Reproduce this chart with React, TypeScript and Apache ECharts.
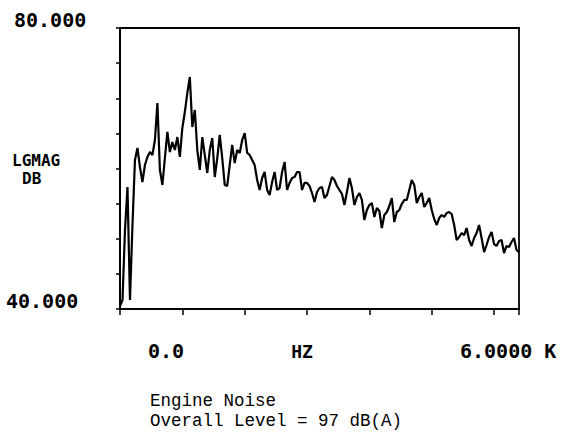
import React, { useEffect, useRef } from "react";
import * as echarts from "echarts";

// Frequency spacing of the trace samples (Hz)
const freqStep = 40;
// Log magnitude (dB), one value every 40 Hz from 0 Hz
const levels = [
  40.43, 41.28, 51.25, 57.37, 41.28, 51.96, 61.21, 62.92, 60.21, 58.08,
  60.5, 61.64, 62.35, 61.92, 64.06, 69.32, 59.79, 57.65, 61.49, 65.2,
  62.35, 63.77, 62.63, 64.48, 61.64, 65.77, 68.04, 70.75, 73.02, 65.91,
  68.33, 62.63, 59.79, 64.48, 61.92, 59.36, 62.63, 64.34, 58.79, 61.49,
  64.77, 61.49, 57.65, 57.51, 60.5, 63.35, 60.78, 62.63, 62.21, 64.06,
  65.05, 62.21, 61.92, 61.21, 60.5, 58.36, 56.94, 58.65, 59.5, 56.94,
  56.23, 58.08, 59.5, 56.94, 57.22, 59.5, 60.93, 56.94, 57.94, 58.65,
  58.79, 59.5, 59.5, 56.94, 57.94, 57.94, 57.51, 56.51, 55.23, 56.65,
  57.22, 57.37, 55.8, 56.23, 57.51, 58.79, 58.36, 57.51, 56.94, 56.37,
  54.8, 56.65, 58.65, 57.22, 54.8, 55.94, 56.51, 55.52, 52.67, 54.09,
  54.8, 55.09, 53.1, 54.38, 53.95, 51.53, 53.38, 53.81, 54.66, 55.8,
  52.38, 53.81, 54.09, 54.95, 55.52, 55.52, 56.94, 58.36, 57.65, 55.09,
  55.94, 56.51, 54.52, 55.09, 55.8, 54.09, 52.81, 51.96, 52.95, 53.38,
  53.1, 53.67, 53.81, 53.52, 51.96, 49.82, 50.25, 50.82, 50.53, 51.53,
  49.82, 48.97, 50.11, 50.82, 51.96, 50.11, 48.11, 49.11, 50.25, 50.96,
  49.25, 48.97, 49.68, 49.82, 47.97, 48.97, 48.83, 49.54, 50.11, 48.4,
  48.11,
];

const yMin = 40;
const yMax = 80;
const yStep = 5;
const xMin = 0;
const xMax = 6400;
const xStep = 1000;

const yTopLabel = "80.000";
const yBottomLabel = "40.000";
const yNameLines = ["LGMAG", "DB"];
const xStartLabel = "0.0";
const xUnitLabel = "HZ";
const xEndLabel = "6.0000 K";
const captionLines = ["Engine Noise", "Overall Level = 97 dB(A)"];

export default function App() {
  const ref = useRef<HTMLDivElement>(null);

  useEffect(() => {
    if (!ref.current) return;
    const chart = echarts.init(ref.current, null, { renderer: "svg" });
    const data = levels.map((v, i) => [i * freqStep, v]);
    const plotFont = 'bold 20px "DejaVu Sans Mono"';
    const nameFont = 'bold 16px "DejaVu Sans Mono"';
    const unitFont = 'bold 18px "DejaVu Sans Mono"';
    const capFont = '17.5px "Liberation Mono"';

    chart.setOption({
      animation: false,
      backgroundColor: "#fff",
      grid: {
        left: 120,
        right: 44,
        top: 28,
        bottom: 133,
        show: true,
        borderColor: "#000",
        borderWidth: 1.8,
      },
      xAxis: {
        type: "value",
        min: xMin,
        max: xMax,
        interval: xStep,
        axisLine: { show: true, onZero: false, lineStyle: { color: "#000", width: 2 } },
        axisTick: { show: true, inside: false, length: 6, lineStyle: { color: "#000", width: 1.5 } },
        axisLabel: { show: false },
        splitLine: { show: false },
      },
      yAxis: {
        type: "value",
        min: yMin,
        max: yMax,
        interval: yStep,
        axisLine: { show: true, lineStyle: { color: "#000", width: 2 } },
        axisTick: { show: true, inside: false, length: 4, lineStyle: { color: "#000", width: 1.5 } },
        axisLabel: { show: false },
        splitLine: { show: false },
      },
      series: [
        {
          type: "line",
          data,
          symbol: "none",
          lineStyle: { color: "#000", width: 2.2 },
          clip: true,
        },
      ],
      graphic: [
        { type: "text", style: { x: 14, y: 20, text: yTopLabel, font: plotFont, fill: "#000", verticalAlign: "middle" } },
        { type: "text", style: { x: 6, y: 301, text: yBottomLabel, font: plotFont, fill: "#000", verticalAlign: "middle" } },
        { type: "text", style: { x: 12, y: 160, text: yNameLines[0], font: nameFont, fill: "#000", verticalAlign: "middle" } },
        { type: "text", style: { x: 22, y: 178, text: yNameLines[1], font: nameFont, fill: "#000", verticalAlign: "middle" } },
        { type: "text", style: { x: 148, y: 351, text: xStartLabel, font: plotFont, fill: "#000", verticalAlign: "middle" } },
        { type: "text", style: { x: 302, y: 351, text: xUnitLabel, font: unitFont, fill: "#000", align: "center", verticalAlign: "middle" } },
        { type: "text", style: { x: 460, y: 351, text: xEndLabel, font: plotFont, fill: "#000", verticalAlign: "middle" } },
        { type: "text", style: { x: 150, y: 401, text: captionLines[0], font: capFont, fill: "#000", verticalAlign: "middle" } },
        { type: "text", style: { x: 150, y: 421, text: captionLines[1], font: capFont, fill: "#000", verticalAlign: "middle" } },
      ],
    });
    return () => chart.dispose();
  }, []);

  return (
    <div
      ref={ref}
      style={{ position: "fixed", left: 0, top: 0, width: 563, height: 442, background: "#fff" }}
    />
  );
}
